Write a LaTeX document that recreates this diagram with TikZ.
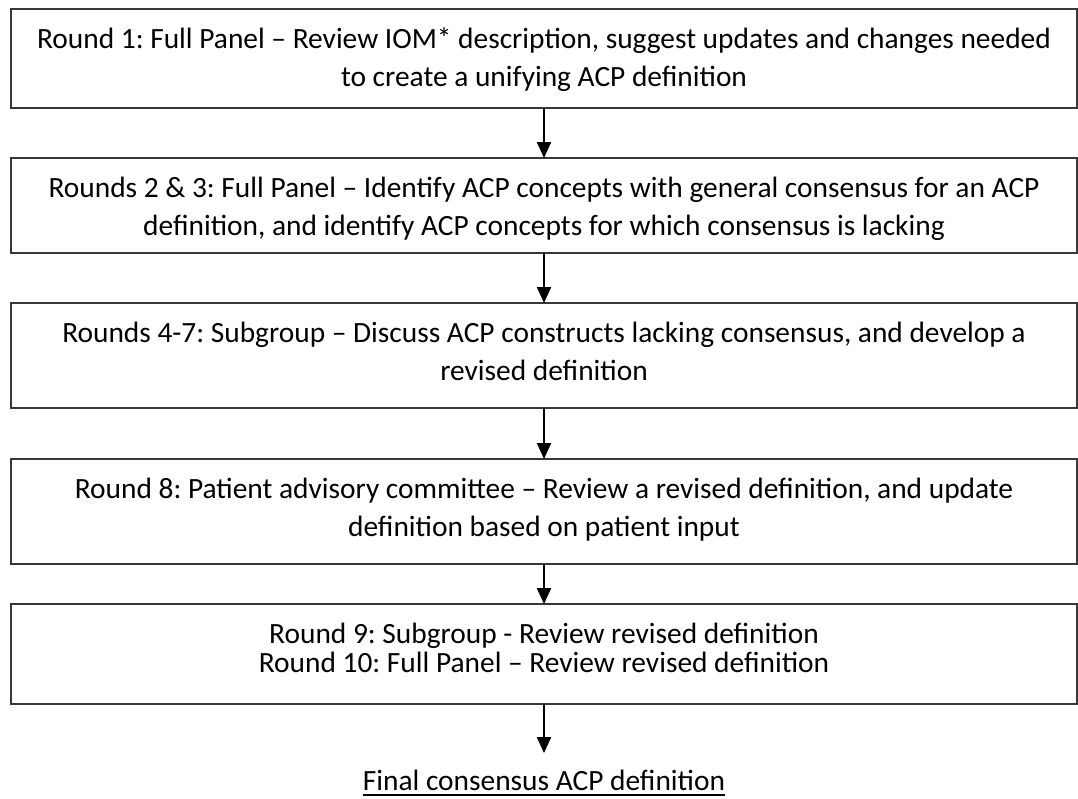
\documentclass[tikz,border=0pt]{standalone}
\usepackage{fontspec}
\setmainfont{Carlito}
\usetikzlibrary{positioning,arrows.meta}
\frenchspacing

\newcommand\roundtext[2]{% box height, text
  \parbox[c][#1][t]{1040pt}{\centering\vspace*{12.4pt}\strut #2}%
}
\newcommand\finalline[1]{% underlined text
  \setbox0\hbox{#1}\rlap{\copy0}\rule[-5.8pt]{\wd0}{1.5pt}%
}

\begin{document}
\begin{tikzpicture}[x=1pt,y=1pt]
  \tikzset{
    >={Triangle[width=14pt,length=16pt]},
    stage/.style={draw=black!78,line width=2pt,minimum width=1066pt,
      inner sep=0pt,outer sep=0pt,font=\fontsize{29.4}{38}\selectfont},
    result/.style={inner sep=0pt,outer sep=0pt,text height=37pt,
      font=\fontsize{29.4}{38}\selectfont},
    flow/.style={->,line width=2.2pt,black},
  }
  \useasboundingbox (0,0) rectangle (1078,-798);

  \node [stage] (r1) at (544,-58.5) {\roundtext{99pt}{%
    Round 1: Full Panel -- Review IOM* description, suggest updates and changes needed\\
    to create a unifying ACP definition}};
  \node [stage,below=50pt of r1] (r2) {\roundtext{95pt}{%
    Rounds 2 \& 3: Full Panel -- Identify ACP concepts with general consensus for an ACP\\
    definition, and identify ACP concepts for which consensus is lacking}};
  \node [stage,below=50pt of r2] (r3) {\roundtext{105pt}{%
    Rounds 4-7: Subgroup -- Discuss ACP constructs lacking consensus, and develop a\\
    revised definition}};
  \node [stage,below=51pt of r3] (r4) {\roundtext{105pt}{%
    Round 8: Patient advisory committee -- Review a revised definition, and update\\
    definition based on patient input}};
  \node [stage,below=40pt of r4] (r5) {\roundtext{100pt}{%
    Round 9: Subgroup - Review revised definition\\[-9pt]
    Round 10: Full Panel -- Review revised definition}};
  \node [result,below=49pt of r5] (final) {\finalline{Final consensus ACP definition}};

  % one arrow between each pair of stages
  \foreach \a/\b in {r1/r2,r2/r3,r3/r4,r4/r5,r5/final}
    \draw[flow] (\a) -- (\b);
\end{tikzpicture}
\end{document}
